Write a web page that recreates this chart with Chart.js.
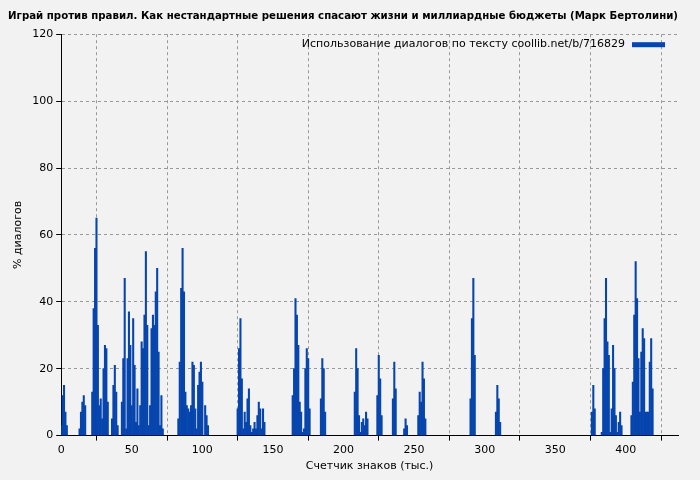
<!DOCTYPE html><html><head><meta charset="utf-8">
<script src="https://cdn.jsdelivr.net/npm/chart.js@4/dist/chart.umd.min.js"></script>
<style>html,body{margin:0;background:#f2f2f2}#w{width:700px;height:480px}</style></head><body><div id="w"><canvas id="c"></canvas></div>
<script>
const titleText = "Играй против правил. Как нестандартные решения спасают жизни и миллиардные бюджеты (Марк Бертолини)";
const legendText = "Использование диалогов по тексту coollib.net/b/716829";
const xTitle = "Счетчик знаков (тыс.)";
const yTitle = "% диалогов";
const positions = [0,1,2,3,4, 13,14,15,16,17, 22,23,24,25,26,27,28,29,30,31,32,33, 36,37,38,39,40,
43,44,45,46,47,48,49,50,51,52,53,54,55,56,57,58,59,60,61,62,63,64,65,66,67,68,69,70,71,72,
83,84,85,86,87,88,89,90,91,92,93,94,95,96,97,98,99,100, 102,103,104,
125,126,127,128,129,130,131,132,133,134,135,136,137,138,139,140,141,142,143,144,
164,165,166,167,168,169,170,171,172,173,174,175,176, 184,185,186,187,
208,209,210,211,212,213,214,215,216,217, 224,225,226,227, 235,236,237, 243,244,245,
253,254,255,256,257,258, 290,291,292,293, 308,309,310,311, 376,377,378,
383,384,385,386,387,388,389,390,391,392,393,394,395,396,397,
404,405,406,407,408,409,410,411,412,413,414,415,416,417,418,419];
const values = [3,12,15,7,3, 2,7,10,12,9, 13,38,56,65,33,9,11,5,20,27,26,10, 5,15,21,13,3,
10,23,47,2,23,37,27,9,35,21,4,14,3,9,28,26,36,55,33,3,9,32,36,33,43,50,25,3,12,2,
5,22,44,56,43,13,9,8,7,9,22,21,8,2,15,19,22,16, 9,6,3,
8,26,35,17,2,7,4,11,14,3,1,2,4,2,6,10,8,2,8,4,
12,20,41,36,27,10,7,1,2,20,26,23,8, 11,23,20,7,
13,26,20,6,1,4,5,3,7,5, 12,24,17,6, 11,22,14, 2,5,3,
6,13,10,22,17,5, 11,35,47,24, 7,15,11,4, 7,15,8,
1,20,35,47,28,24,1,8,27,20,6,1,4,7,3,
6,16,36,52,41,23,7,25,32,29,7,7,7,22,29,14];
const xTicks = [0,50,100,150,200,250,300,350,400];
const barColor = "#0645ad";
const legendPlugin = {id:'lg',afterDraw(ch){const a=ch.chartArea,c=ch.ctx;c.save();c.font="11px 'DejaVu Sans'";c.fillStyle="#000";c.textAlign="right";c.textBaseline="middle";c.fillText(legendText,a.right-53,a.top+10);c.fillStyle=barColor;c.fillRect(a.right-46,a.top+8,33,5);c.restore();}};
new Chart(document.getElementById('c'),{type:'bar',
data:{datasets:[{data:positions.map((x,i)=>({x:x,y:values[i]})),backgroundColor:barColor,barPercentage:1,categoryPercentage:1,grouped:false}]},
options:{responsive:true,maintainAspectRatio:false,animation:false,
layout:{padding:{left:8,right:22,top:0,bottom:3}},
plugins:{legend:{display:false},tooltip:{enabled:false},
title:{display:true,text:titleText,color:'#000',font:{size:11,family:'DejaVu Sans'},padding:{top:10,bottom:11}}},
scales:{x:{type:'linear',min:0,max:437,offset:false,afterBuildTicks(s){s.ticks=xTicks.map(v=>({value:v}));},
grid:{color:'#999',tickColor:'#000',tickLength:5},border:{color:'#000',dash:[3,3]},
ticks:{color:'#000',font:{size:11,family:'DejaVu Sans'},maxRotation:0},
title:{display:true,text:xTitle,color:'#000',font:{size:11,family:'DejaVu Sans'},padding:{top:0}}},
y:{min:0,max:120,ticks:{stepSize:20,color:'#000',font:{size:11,family:'DejaVu Sans'}},
grid:{color:'#999',tickColor:'#000',tickLength:5},border:{color:'#000',dash:[3,3]},
title:{display:true,text:yTitle,color:'#000',font:{size:11,family:'DejaVu Sans'}}}}},
plugins:[legendPlugin]});
</script></body></html>
